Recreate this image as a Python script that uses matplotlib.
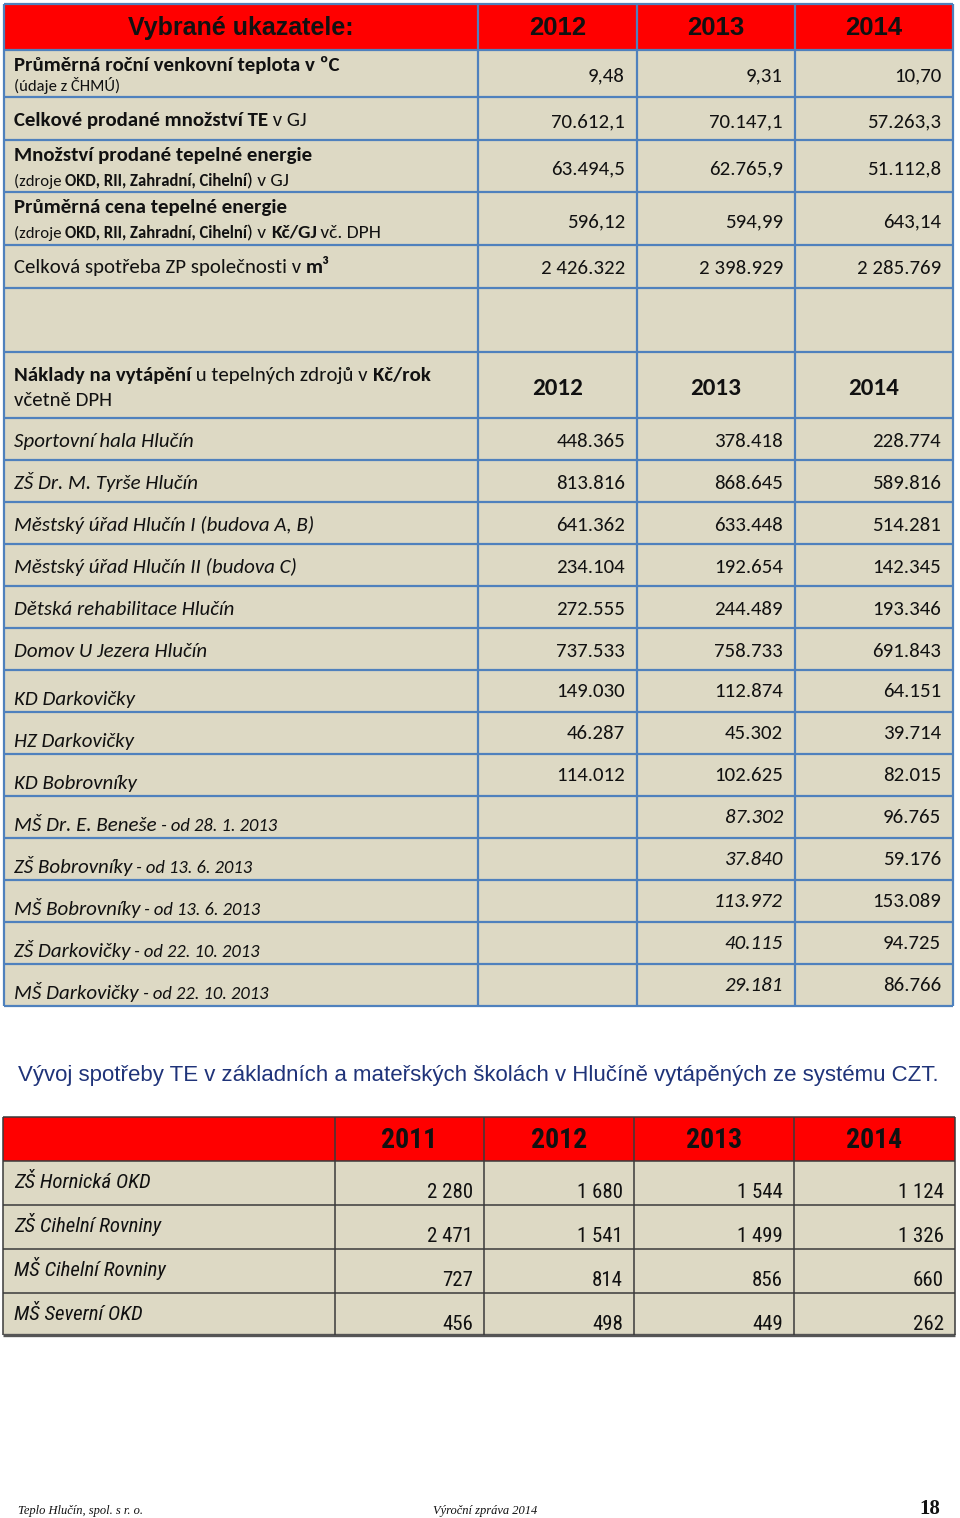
import matplotlib
matplotlib.use('Agg')
import matplotlib.pyplot as plt
from matplotlib import font_manager
from matplotlib.font_manager import FontProperties
from matplotlib.patches import Rectangle

# vybrane ukazatele
years_a = ['2012', '2013', '2014']
teplota = ['9,48', '9,31', '10,70']
te_celkem = ['70.612,1', '70.147,1', '57.263,3']
te_zdroje = ['63.494,5', '62.765,9', '51.112,8']
cena_gj = ['596,12', '594,99', '643,14']
spotreba_zp = ['2 426.322', '2 398.929', '2 285.769']

# naklady na vytapeni
objekty = ['Sportovní hala Hlučín', 'ZŠ Dr. M. Tyrše Hlučín',
           'Městský úřad Hlučín I (budova A, B)', 'Městský úřad Hlučín II (budova C)',
           'Dětská rehabilitace Hlučín', 'Domov U Jezera Hlučín', 'KD Darkovičky',
           'HZ Darkovičky', 'KD Bobrovníky', 'MŠ Dr. E. Beneše', 'ZŠ Bobrovníky',
           'MŠ Bobrovníky', 'ZŠ Darkovičky', 'MŠ Darkovičky']
objekty_od = ['', '', '', '', '', '', '', '', '',
              'od 28. 1. 2013', 'od 13. 6. 2013', 'od 13. 6. 2013',
              'od 22. 10. 2013', 'od 22. 10. 2013']
naklady_2012 = ['448.365', '813.816', '641.362', '234.104', '272.555', '737.533',
                '149.030', '46.287', '114.012', '', '', '', '', '']
naklady_2013 = ['378.418', '868.645', '633.448', '192.654', '244.489', '758.733',
                '112.874', '45.302', '102.625', '87.302', '37.840', '113.972',
                '40.115', '29.181']
naklady_2014 = ['228.774', '589.816', '514.281', '142.345', '193.346', '691.843',
                '64.151', '39.714', '82.015', '96.765', '59.176', '153.089',
                '94.725', '86.766']

# spotreba TE ve skolach
years_b = ['2011', '2012', '2013', '2014']
skoly = ['ZŠ Hornická OKD', 'ZŠ Cihelní Rovniny', 'MŠ Cihelní Rovniny', 'MŠ Severní OKD']
te_2011 = [2280, 2471, 727, 456]
te_2012 = [1680, 1541, 814, 498]
te_2013 = [1544, 1499, 856, 449]
te_2014 = [1124, 1326, 660, 262]

installed = {f.name for f in font_manager.fontManager.ttflist}
def pick(*names):
    for n in names:
        if n in installed:
            return n
    return 'DejaVu Sans'

CAL = pick('Carlito', 'Lato')
ARIAL = pick('Liberation Sans', 'Arial')
NARROW = pick('Liberation Sans Narrow', 'Roboto Condensed', 'Liberation Sans')
TIMES = pick('Liberation Serif', 'DejaVu Serif')

RED = '#FF0000'
BEIGE = '#DDD9C4'
BLUE = '#4F81BD'
INK = '#111111'

fig = plt.figure(figsize=(9.6, 15.18), dpi=100)
ax = fig.add_axes([0, 0, 1, 1])
ax.set_xlim(0, 960)
ax.set_ylim(1518, 0)
ax.axis('off')
renderer = fig.canvas.get_renderer()


def fp(family=CAL, size=15, weight='normal', style='normal'):
    return FontProperties(family=family, size=size, weight=weight, style=style)


def width(s, prop):
    w1 = renderer.get_text_width_height_descent('|' + s + '|', prop, ismath=False)[0]
    w0 = renderer.get_text_width_height_descent('||', prop, ismath=False)[0]
    return w1 - w0


def runs(x, y, parts):
    # parts: list of (text, FontProperties)
    for s, prop in parts:
        ax.text(x, y, s, fontproperties=prop, color=INK, ha='left', va='baseline')
        x += width(s, prop)


def cell_right(col_edges, col, y, s, prop, pad=12):
    ax.text(col_edges[col + 1] - pad, y, s, fontproperties=prop, color=INK,
            ha='right', va='baseline')


# ---------------- table 1 ----------------
c1 = [4, 478, 637, 795, 953]
r1 = [4, 50, 97, 140, 192, 245, 288, 352, 418] + [418 + 42 * (i + 1) for i in range(len(objekty))]

ax.add_patch(Rectangle((c1[0], r1[1]), c1[-1] - c1[0], r1[-1] - r1[1], color=BEIGE, lw=0))
ax.add_patch(Rectangle((c1[0], r1[0]), c1[-1] - c1[0], r1[1] - r1[0], color=RED, lw=0))
ax.hlines(r1, c1[0], c1[-1], colors=BLUE, lw=1.6)
ax.vlines(c1, r1[0], r1[-1], colors=BLUE, lw=1.6)

ax.text((c1[0] + c1[1]) / 2, 35, 'Vybrané ukazatele:', fontproperties=fp(ARIAL, 18, 'bold'),
        color=INK, ha='center', va='baseline')
for j, yr in enumerate(years_a):
    ax.text((c1[j + 1] + c1[j + 2]) / 2, 35, yr, fontproperties=fp(ARIAL, 18.5, 'bold'),
            color=INK, ha='center', va='baseline')

B = fp(weight='bold')
N = fp()
SB = fp(size=12, weight='bold')
SN = fp(size=12)
MN = fp(size=14)
MB = fp(size=14, weight='bold')

runs(14, 71, [('Průměrná roční venkovní teplota v ºC', B)])
runs(14, 91, [('(údaje z ČHMÚ)', SN)])
runs(14, 126, [('Celkové prodané množství TE', B), (' v GJ', N)])
runs(14, 161, [('Množství prodané tepelné energie', B)])
runs(14, 186, [('(zdroje ', SN), ('OKD, RII, Zahradní, Cihelní', SB), (') v GJ', MN)])
runs(14, 213, [('Průměrná cena tepelné energie', B)])
runs(14, 238, [('(zdroje ', SN), ('OKD, RII, Zahradní, Cihelní', SB), (') v ', MN),
               ('Kč/GJ', MB), (' vč. DPH', MN)])
runs(14, 273, [('Celková spotřeba ZP společnosti v ', N), ('m³', B)])

value_rows = [(teplota, 81), (te_celkem, 127), (te_zdroje, 174), (cena_gj, 227), (spotreba_zp, 274)]
for vals, yb in value_rows:
    for j, v in enumerate(vals):
        cell_right(c1, j + 1, yb, v, N)

runs(14, 381, [('Náklady na vytápění', B), (' u tepelných zdrojů v ', N), ('Kč/rok', B)])
runs(14, 406, [('včetně DPH', N)])
for j, yr in enumerate(years_a):
    ax.text((c1[j + 1] + c1[j + 2]) / 2, 395, yr, fontproperties=fp(size=18, weight='bold'),
            color=INK, ha='center', va='baseline')

I = fp(style='italic')
SI = fp(size=13.3, style='italic')
for i, name in enumerate(objekty):
    top = r1[8 + i]
    shifted = i >= 6
    yn = top + (35 if shifted else 29)
    yv = top + (27 if shifted else 29)
    parts = [(name, I)]
    if objekty_od[i]:
        parts.append((' - ' + objekty_od[i], SI))
    runs(14, yn, parts)
    for j, vals in enumerate([naklady_2012, naklady_2013, naklady_2014]):
        if vals[i]:
            prop = I if (objekty_od[i] and j == 1) else N
            cell_right(c1, j + 1, yv, vals[i], prop)

# ---------------- title ----------------
ax.text(18, 1081, 'Vývoj spotřeby TE v základních a mateřských školách v Hlučíně vytápěných ze systému CZT.',
        fontproperties=fp(ARIAL, 16), color='#1F3379', ha='left', va='baseline')

# ---------------- table 2 ----------------
c2 = [3, 335, 484, 634, 794, 955]
r2 = [1117, 1161, 1205, 1249, 1293, 1335]
ax.add_patch(Rectangle((c2[0], r2[1]), c2[-1] - c2[0], r2[-1] - r2[1], color=BEIGE, lw=0))
ax.add_patch(Rectangle((c2[0], r2[0]), c2[-1] - c2[0], r2[1] - r2[0], color=RED, lw=0))
ax.hlines(r2[:-1], c2[0], c2[-1], colors='#3A3A3A', lw=1.1)
ax.hlines(r2[-1], c2[0], c2[-1], colors='#555555', lw=2.4)
ax.vlines(c2, r2[0], r2[-1], colors='#3A3A3A', lw=1.1)

for j, yr in enumerate(years_b):
    ax.text((c2[j + 1] + c2[j + 2]) / 2, 1148, yr, fontproperties=fp(NARROW, 20, 'bold'),
            color=INK, ha='center', va='baseline')
NI = fp(NARROW, 15, style='italic')
NN = fp(NARROW, 15)
for i, name in enumerate(skoly):
    top = r2[1 + i]
    ax.text(14, top + 27, name, fontproperties=NI, color=INK, ha='left', va='baseline')
    for j, vals in enumerate([te_2011, te_2012, te_2013, te_2014]):
        s = f'{vals[i]:,}'.replace(',', ' ')
        cell_right(c2, j + 1, top + 37, s, NN, pad=11)

# ---------------- footer ----------------
FI = fp(TIMES, 9, style='italic')
ax.text(18, 1514, 'Teplo Hlučín, spol. s r. o.', fontproperties=FI, color=INK, ha='left', va='baseline')
ax.text(433, 1514, 'Výroční zpráva 2014', fontproperties=FI, color=INK, ha='left', va='baseline')
ax.text(940, 1514, '18', fontproperties=fp(TIMES, 15, 'bold'), color=INK, ha='right', va='baseline')

fig.savefig('out.png', dpi=100)
